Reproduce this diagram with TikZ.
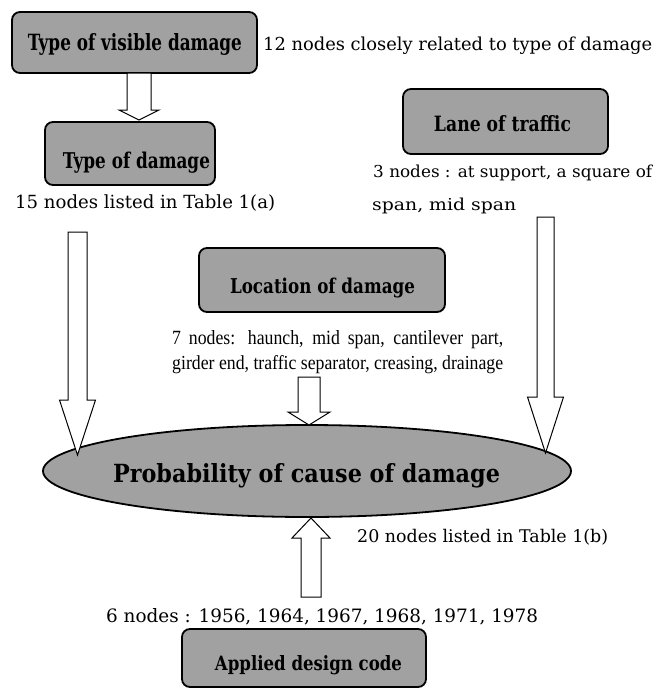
\documentclass[tikz,border=0pt]{standalone}
\usepackage{fontspec}
\usepackage{graphicx}
\setmainfont{DejaVu Serif}
\newfontfamily\libfont{Liberation Serif}
\usetikzlibrary{calc,shapes.geometric}
\definecolor{boxgray}{gray}{0.63}
\tikzset{
  gbox/.style={draw=black, line width=1.8pt, rounded corners=8pt, fill=boxgray, inner sep=0pt},
  gell/.style={draw=black, line width=1.8pt, ellipse, fill=boxgray, inner sep=0pt},
  boxtxt/.style={inner sep=0pt, anchor=base, font=\fontsize{15}{18}\selectfont\bfseries},
  plaintxt/.style={inner sep=0pt, anchor=base west, font=\fontsize{16}{19}\selectfont},
  libtxt/.style={inner sep=0pt, anchor=base west, font=\fontsize{16}{19}\selectfont\libfont},
  barrow/.style={draw=black, line width=1pt, fill=white, line join=miter},
}
\newcommand{\fitw}[2]{\resizebox{#1}{!}{#2}}
\newcommand{\fitwh}[3]{\resizebox{#1}{#2}{#3}}
% #1 start, #2 tip, #3 shaft half width, #4 head half width, #5 signed head length (canvas)
\newcommand{\varrow}[5]{%
  \draw[barrow] let \p1=(#1), \p2=(#2) in
    ({\x1-#3},{\y1}) -- ({\x1-#3},{\y2+(#5)}) -- ({\x1-#4},{\y2+(#5)}) -- ({\x2},{\y2})
    -- ({\x1+#4},{\y2+(#5)}) -- ({\x1+#3},{\y2+(#5)}) -- ({\x1+#3},{\y1}) -- cycle;}
\newlength\lw
\settowidth\lw{\fontsize{16}{19}\selectfont\libfont girder end, traffic separator, creasing, drainage}
\begin{document}
\begin{tikzpicture}[x=1pt,y=-1pt]
\useasboundingbox (0,0) rectangle (668,688);

% boxes
\node[gbox, minimum width=245pt, minimum height=61pt] (vis) at (134.5,42.5) {};
\node[gbox, minimum width=170pt, minimum height=63pt] (dam) at (130,153.5) {};
\node[gbox, minimum width=205pt, minimum height=65pt] (lane) at (505.5,121.5) {};
\node[gbox, minimum width=246pt, minimum height=64pt] (loc) at (322,280) {};
\node[gell, minimum width=528pt, minimum height=92pt] (ell) at (307,471) {};
\node[gbox, minimum width=244pt, minimum height=58pt] (app) at (304,658) {};

% box labels
\node[boxtxt] (vist) at (135,50) {\fitwh{214pt}{17pt}{Type of visible damage}};
\node[boxtxt] (damt) at (136.5,168) {\fitwh{147pt}{16.5pt}{Type of damage}};
\node[boxtxt] (lanet) at (502.5,131) {\fitwh{137pt}{16pt}{Lane of traffic}};
\node[boxtxt] (loct) at (322.5,293) {\fitwh{185pt}{15.5pt}{Location of damage}};
\node[boxtxt] (ellt) at (306.5,482) {\fitwh{387pt}{19pt}{Probability of cause of damage}};
\node[boxtxt] (appt) at (308.5,670) {\fitwh{187pt}{15pt}{Applied design code}};

% plain texts
\node[plaintxt] (t1) at (263,50) {\fitw{389pt}{12 nodes closely related to type of damage}};
\node[plaintxt] (t2) at (15,208) {\fitw{260pt}{15 nodes listed in Table 1(a)}};
\node[plaintxt] (t3) at (373,177) {\fitwh{279pt}{12.5pt}{3 nodes : at support, a square of}};
\node[plaintxt] (t4) at (372,210) {\fitwh{144pt}{12.5pt}{span, mid span}};
\node[libtxt] (t5a) at (172,344) {\fitwh{331pt}{14pt}{\makebox[\lw][s]{7 nodes: haunch, mid span, cantilever part,}}};
\node[libtxt] (t5b) at (172,369) {\fitwh{331pt}{14pt}{girder end, traffic separator, creasing, drainage}};
\node[plaintxt] (t6) at (357,542) {\fitw{251pt}{20 nodes listed in Table 1(b)}};
\node[plaintxt] (t7) at (106,622) {\fitw{432pt}{6 nodes : 1956, 1964, 1967, 1968, 1971, 1978}};

% arrow anchors
\coordinate (a1s) at (139,73);
\coordinate (a1e) at (139,120);
\coordinate (als) at (77.5,232);
\coordinate (ale) at (77.5,455);
\coordinate (ars) at (545.5,217);
\coordinate (are) at (545.5,453);
\coordinate (acs) at (309,377);
\coordinate (ace) at (309,425);
\coordinate (abs) at (311,597);
\coordinate (abe) at (311,518);

\varrow{a1s}{a1e}{12pt}{20pt}{10pt}
\varrow{als}{ale}{9.5pt}{18pt}{55pt}
\varrow{ars}{are}{8.5pt}{18pt}{56pt}
\varrow{acs}{ace}{11pt}{21pt}{13pt}
\varrow{abs}{abe}{10pt}{19pt}{-20pt}
\end{tikzpicture}
\end{document}
